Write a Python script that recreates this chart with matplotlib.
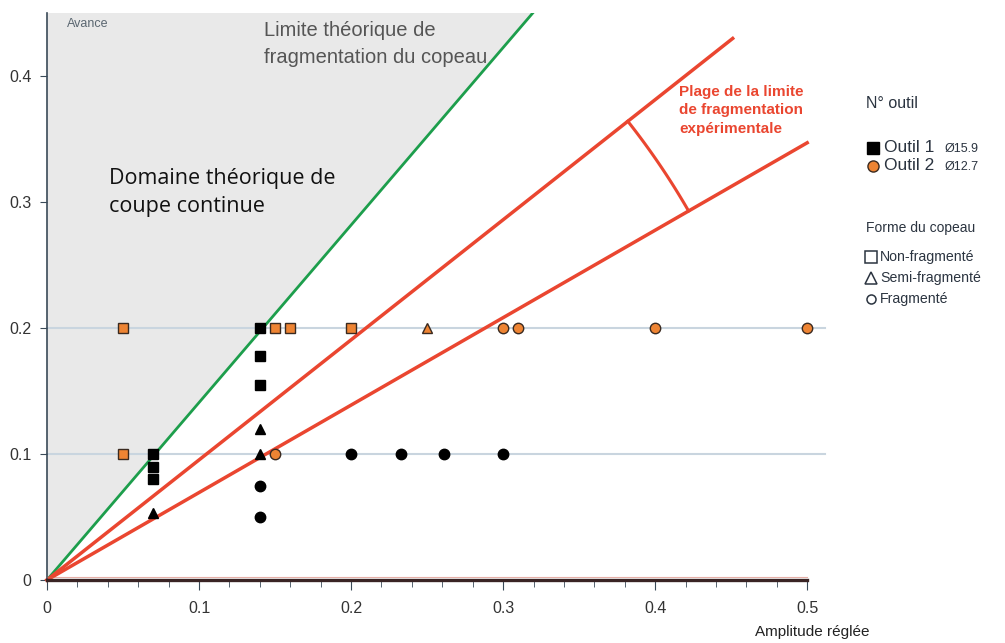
import numpy as np
import matplotlib
matplotlib.use("Agg")
import matplotlib.pyplot as plt
from matplotlib.lines import Line2D

plt.rcParams['font.family'] = ['Liberation Sans', 'DejaVu Sans']

# ---- data ----
o1_sq_x = [0.07, 0.07, 0.07, 0.14, 0.14, 0.14]
o1_sq_y = [0.10, 0.09, 0.08, 0.20, 0.178, 0.155]
o1_tri_x = [0.07, 0.14, 0.14]
o1_tri_y = [0.053, 0.12, 0.10]
o1_ci_x = [0.14, 0.14, 0.20, 0.233, 0.261, 0.30]
o1_ci_y = [0.075, 0.05, 0.10, 0.10, 0.10, 0.10]

o2_sq_x = [0.05, 0.15, 0.16, 0.20, 0.05]
o2_sq_y = [0.20, 0.20, 0.20, 0.20, 0.10]
o2_tri_x = [0.25]
o2_tri_y = [0.20]
o2_ci_x = [0.30, 0.31, 0.40, 0.50, 0.15]
o2_ci_y = [0.20, 0.20, 0.20, 0.20, 0.10]

green_slope = 1 / 0.71         # theoretical limit
red_upper_slope = 0.953
red_upper_end = 0.451
red_lower_slope = 0.694
red_lower_end = 0.50
ref_levels = [0.1, 0.2]

xticks = [0, 0.1, 0.2, 0.3, 0.4, 0.5]
xtick_labels = ['0', '0.1', '0.2', '0.3', '0.4', '0.5']
yticks = [0, 0.1, 0.2, 0.3, 0.4]
ytick_labels = ['0', '0.1', '0.2', '0.3', '0.4']

ORANGE = '#ee8433'
RED = '#ea4630'
GREEN = '#1d9e4c'
AXC = '#3a4a58'

fig = plt.figure(figsize=(10.05, 6.43), dpi=100)
ax = fig.add_axes([47/1005, 63/643, (830-47)/1005, (630-63)/643])
ax.set_xlim(0, 0.515)
ax.set_ylim(0, 0.45)

# shaded theoretical continuous-cut domain
xg_top = 0.45 / green_slope
ax.fill([0, 0, xg_top], [0, 0.45, 0.45], color='#e9e9e9', zorder=0, lw=0)

# reference horizontal lines
for lv in ref_levels:
    ax.plot([0, 0.512], [lv, lv], color='#c9d5df', lw=1.5, zorder=1, clip_on=False)

# lines
ax.plot([0, xg_top], [0, 0.45], color=GREEN, lw=2, zorder=2)
ax.plot([0, red_upper_end], [0, red_upper_slope * red_upper_end], color=RED, lw=2.5, zorder=2, clip_on=False)
ax.plot([0, red_lower_end], [0, red_lower_slope * red_lower_end], color=RED, lw=2.5, zorder=2, clip_on=False)

# arc between red lines (circular in display space)
sx, sy = 1520.0, 1260.0  # px per data unit
r = 740.0
a1 = np.arctan(red_upper_slope * sy / sx)
a2 = np.arctan(red_lower_slope * sy / sx)
th = np.linspace(a1, a2, 50)
ax.plot(r * np.cos(th) / sx, r * np.sin(th) / sy, color=RED, lw=2.2, zorder=2)

# points
ms = 7.5
kw1 = dict(color='black', ls='none', zorder=4)
ax.plot(o1_sq_x, o1_sq_y, marker='s', ms=ms, **kw1)
ax.plot(o1_tri_x, o1_tri_y, marker='^', ms=ms, **kw1)
ax.plot(o1_ci_x, o1_ci_y, marker='o', ms=ms, **kw1)
kw2 = dict(mfc=ORANGE, mec='#3a2a20', mew=1.0, ls='none', zorder=4)
ax.plot(o2_sq_x, o2_sq_y, marker='s', ms=ms, **kw2)
ax.plot(o2_tri_x, o2_tri_y, marker='^', ms=ms, **kw2)
ax.plot(o2_ci_x, o2_ci_y, marker='o', ms=ms, **kw2)

# axes styling
for s in ['top', 'right']:
    ax.spines[s].set_visible(False)
ax.spines['left'].set_color(AXC)
ax.spines['left'].set_linewidth(1.2)
ax.spines['bottom'].set_color('#3a2424')
ax.spines['bottom'].set_linewidth(2.4)
ax.spines['bottom'].set_bounds(0, 0.5)
ax.plot([0, 0.5], [0.002, 0.002], color='#d06050', lw=0.8, zorder=3, clip_on=False, alpha=0.5)

ax.set_xticks(xticks)
ax.set_xticklabels(xtick_labels)
ax.set_xticks(np.arange(0, 0.501, 0.02), minor=True)
ax.set_yticks(yticks)
ax.set_yticklabels(ytick_labels)
ax.tick_params(axis='x', which='both', direction='out', color=AXC, labelsize=11.5, labelcolor='#333333', pad=8)
ax.tick_params(axis='x', which='major', length=7)
ax.tick_params(axis='x', which='minor', length=5)
ax.tick_params(axis='y', direction='out', length=5, color=AXC, labelsize=11.5, labelcolor='#333333', pad=6)

# texts
ax.text(0.013, 0.446, 'Avance', fontsize=9, color='#5a6670', va='top', ha='left')
ax.text(0.143, 0.444, 'Limite théorique de\nfragmentation du copeau', fontsize=14.5,
        color='#555555', va='top', ha='left', linespacing=1.55)
ax.text(0.041, 0.327, 'Domaine théorique de\ncoupe continue', fontsize=15.5,
        family=['Open Sans', 'DejaVu Sans'], color='#111111', va='top', ha='left', linespacing=1.45)
ax.text(0.416, 0.393, 'Plage de la limite\nde fragmentation\nexpérimentale', fontsize=11,
        fontweight='bold', color=RED, va='top', ha='left', linespacing=1.4)

fig.text(755/1005, 1 - 632/643, 'Amplitude réglée', fontsize=11, color='#222222', va='center', ha='left')

# legend (manual)
TXT = '#2b3440'
def fy(p):
    return 1 - p / 643
def fx(p):
    return p / 1005
fig.text(fx(866), fy(103), 'N° outil', fontsize=11.5, color=TXT, va='center', ha='left')
fig.add_artist(Line2D([fx(873)], [fy(148)], marker='s', ms=9, color='black', ls='none'))
fig.text(fx(884), fy(148), 'Outil 1', fontsize=12.5, color=TXT, va='center', ha='left')
fig.text(fx(945), fy(149), 'Ø15.9', fontsize=9, color=TXT, va='center', ha='left')
fig.add_artist(Line2D([fx(873)], [fy(166)], marker='o', ms=8, mfc=ORANGE, mec='#3a2a20', ls='none'))
fig.text(fx(884), fy(166), 'Outil 2', fontsize=12.5, color=TXT, va='center', ha='left')
fig.text(fx(945), fy(167), 'Ø12.7', fontsize=9, color=TXT, va='center', ha='left')

fig.text(fx(866), fy(228), 'Forme du copeau', fontsize=10, color=TXT, va='center', ha='left')
fig.add_artist(Line2D([fx(871)], [fy(257)], marker='s', ms=8, mfc='white', mec=TXT, mew=1.1, ls='none'))
fig.text(fx(880), fy(257), 'Non-fragmenté', fontsize=10.2, color=TXT, va='center', ha='left')
fig.add_artist(Line2D([fx(871)], [fy(278)], marker='^', ms=8, mfc='white', mec=TXT, mew=1.1, ls='none'))
fig.text(fx(880), fy(278), 'Semi-fragmenté', fontsize=10.2, color=TXT, va='center', ha='left')
fig.add_artist(Line2D([fx(871)], [fy(299)], marker='o', ms=6.5, mfc='white', mec=TXT, mew=1.1, ls='none'))
fig.text(fx(880), fy(299), 'Fragmenté', fontsize=10.2, color=TXT, va='center', ha='left')

fig.savefig('out.png', dpi=100)
